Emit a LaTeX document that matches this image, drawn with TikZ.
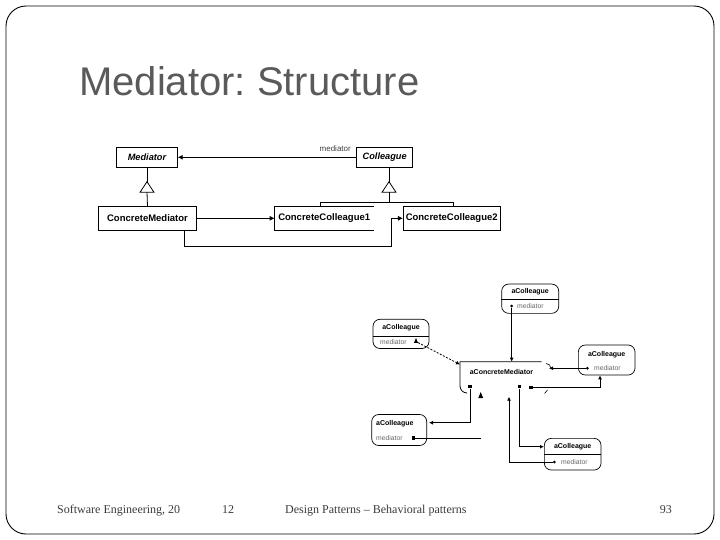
\documentclass[tikz,border=0pt]{standalone}
\usepackage{fontspec}
\setmainfont{Liberation Sans}
\newfontfamily\footfont{Liberation Serif}
\usetikzlibrary{arrows.meta,calc,shapes.geometric}
\definecolor{titlegray}{HTML}{5A5A5A}
\definecolor{footgray}{HTML}{3A3A3A}
\frenchspacing
\begin{document}
\begin{tikzpicture}[x=1pt,y=-1pt,
  cls/.style={draw,line width=0.8pt,inner sep=0pt,minimum height=19.3pt,font=\bfseries\fontsize{9.5}{11}\selectfont},
  ccls/.style={cls,minimum height=23.3pt},
  assoc/.style={line width=0.8pt,-{Latex[length=5pt,width=5pt]}},
  gen/.style={line width=0.8pt},
  obj/.style={draw,line width=0.7pt,rounded corners=7pt,inner sep=0pt},
  otitle/.style={font=\bfseries\fontsize{7}{8}\selectfont,inner sep=0pt},
  oattr/.style={font=\fontsize{6.8}{8}\selectfont,text=black!60,inner sep=0pt},
  oref/.style={line width=0.8pt,-{Latex[length=4pt,width=4pt]}},
  oline/.style={line width=0.8pt},
  bul/.style={circle,fill=black,inner sep=0pt,minimum size=3pt},
  sq/.style={rectangle,fill=black,inner sep=0pt,minimum size=3.2pt},
  foot/.style={font=\footfont\fontsize{12}{14}\selectfont,text=footgray,inner sep=0pt}
]
\useasboundingbox (0,0) rectangle (720,540);
\draw[line width=0.9pt,rounded corners=20pt] (6,6) rectangle (714,534);

% title
\node[anchor=base west,inner sep=0pt,text=titlegray,font=\fontsize{40}{44}\selectfont] (title) at (79,96) {Mediator: Structure};

% ---------- class diagram ----------
\node[cls,minimum width=60.6pt,font=\bfseries\itshape\fontsize{9.2}{11}\selectfont] (med) at (147,157.3) {Mediator};
\node[cls,minimum width=56pt,font=\bfseries\itshape\fontsize{9.2}{11}\selectfont] (col) at (384.7,157.3) {Colleague};
\node[ccls,minimum width=98.4pt] (cm) at (147.5,218.3) {ConcreteMediator};
\node[ccls,minimum width=98.3pt,draw=none] (cc1) at (324.2,218.3) {ConcreteColleague1};
\draw[line width=0.8pt] (cc1.north east) -- (cc1.north west) -- (cc1.south west) -- (cc1.south east);
\node[ccls,minimum width=96.7pt] (cc2) at (451.7,218.3) {ConcreteColleague2};

% association Colleague -> Mediator
\draw[assoc] (col.west) -- (med.east);
\node[anchor=east,inner sep=0pt,font=\fontsize{8}{9}\selectfont,text=black!75] (lbl) at (351,149) {mediator};

% generalization Mediator <- ConcreteMediator
\coordinate (mapex) at (147,181.7);
\coordinate (mbase) at (147,192.3);
\draw[gen] (med.south) -- (mapex);
\draw[gen,fill=white] (140,192.3) -- (mapex) -- (154,192.3) -- cycle;
\draw[gen] (mbase) -- (cm.north);

% generalization Colleague <- ConcreteColleague1/2
\coordinate (capex) at (389,181.7);
\coordinate (cbase) at (389,192.3);
\coordinate (cbar) at (389,202.3);
\draw[gen] (389,167) -- (capex);
\draw[gen,fill=white] (382,192.3) -- (capex) -- (396,192.3) -- cycle;
\draw[gen] (cbase) -- (cbar);
\draw[gen] (320,206.7) |- (cbar) -| (453.3,206.7);

% ConcreteMediator -> ConcreteColleague1/2
\draw[assoc] (cm.east) -- (cc1.west);
\coordinate (cmb) at (184.3,230);
\draw[assoc] (cmb) -- ++(0,16.7) -| (391.7,218.3) -- (cc2.west);

% ---------- object diagram ----------
% aConcreteMediator
\node[otitle] (acm) at (501.5,371.7) {aConcreteMediator};
\draw[oline] (541.7,361.7) -- (460,361.7) -- (460,386) arc[start angle=180,end angle=90,x radius=7pt,y radius=-7pt];
\draw[line width=0.6pt] (546,363.5) arc[start angle=90,end angle=0,radius=5pt];
\draw[line width=0.6pt] (544.5,393.5) -- (547.5,390);

% top aColleague
\node[obj,minimum width=57pt,minimum height=29.3pt] (c1) at (530.2,298.7) {};
\draw[line width=0.6pt] (c1.west |- 0,299.3) -- (c1.east |- 0,299.3);
\node[otitle] (c1t) at (530.2,291.5) {aColleague};
\node[oattr,anchor=west] (c1a) at (517,306) {mediator};
\node[bul] (c1b) at (511.7,306) {};

% left aColleague
\node[obj,minimum width=56pt,minimum height=29.2pt] (c2) at (401,333.9) {};
\draw[line width=0.6pt] (c2.west |- 0,336.3) -- (c2.east |- 0,336.3);
\node[otitle] (c2t) at (401,327.5) {aColleague};
\node[oattr,anchor=west] (c2a) at (380,342.5) {mediator};
\node[isosceles triangle,fill=black,inner sep=0pt,minimum size=4pt,shape border rotate=90] (c2b) at (416,341.5) {};

% right aColleague
\node[obj,minimum width=56.7pt,minimum height=30pt] (c3) at (606.7,360) {};
\node[otitle] (c3t) at (606.7,354.3) {aColleague};
\node[oattr,anchor=west] (c3a) at (594,368.3) {mediator};
\node[bul] (c3b) at (587.3,368.3) {};

% bottom-left aColleague
\node[obj,minimum width=55pt,minimum height=31pt] (c4) at (399.2,430) {};
\node[otitle,anchor=west] (c4t) at (376,423.5) {aColleague};
\node[oattr,anchor=west] (c4a) at (376,438) {mediator};
\node[sq] (c4b) at (413.3,438) {};

% bottom-right aColleague
\node[obj,minimum width=56.7pt,minimum height=31.7pt] (c5) at (572.7,454.2) {};
\draw[line width=0.6pt] (c5.west |- 0,454.3) -- (c5.east |- 0,454.3);
\node[otitle] (c5t) at (572.7,446.7) {aColleague};
\node[oattr,anchor=west] (c5a) at (561,462) {mediator};
\node[bul] (c5b) at (554.3,462) {};

% mediator reference dots
\node[sq] (d1) at (470,386.7) {};
\node[sq] (d2) at (519.3,386.7) {};
\node[sq] (d3) at (531,387.5) {};

% references
\coordinate (mtop) at (511.7,361.7);
\draw[oref] (c1b) -- (mtop);
\coordinate (mleft) at (460,364.5);
\draw[oref,dashed,dash pattern=on 2pt off 1.5pt] (c2b) -- (mleft);
\coordinate (mright) at (549,368.3);
\draw[oref] (c3b) -- (mright);
\draw[oref] (d3) -| (c3.south -| 600,0);
\coordinate (c4r) at (429,422.7);
\draw[oref] (d1) |- (c4r);
\coordinate (c4end) at (481,438);
\draw[oline] (c4b) -- (c4end);
\node[isosceles triangle,fill=black,inner sep=0pt,minimum size=5pt,shape border rotate=90] (tri) at (480.7,396.5) {};
\draw[oref] (d2) |- (c5.west |- 0,446.7);
\coordinate (mb2) at (509,396.7);
\draw[oref] (c5b) -| (mb2);

% footer
\node[foot,anchor=base west] (f1) at (57,513) {Software Engineering, 20};
\node[foot,anchor=base west] (f2) at (222,513) {12};
\node[foot,anchor=base west] (f3) at (285,513) {Design Patterns – Behavioral patterns};
\node[foot,anchor=base east] (f4) at (672,513) {93};
\end{tikzpicture}
\end{document}
